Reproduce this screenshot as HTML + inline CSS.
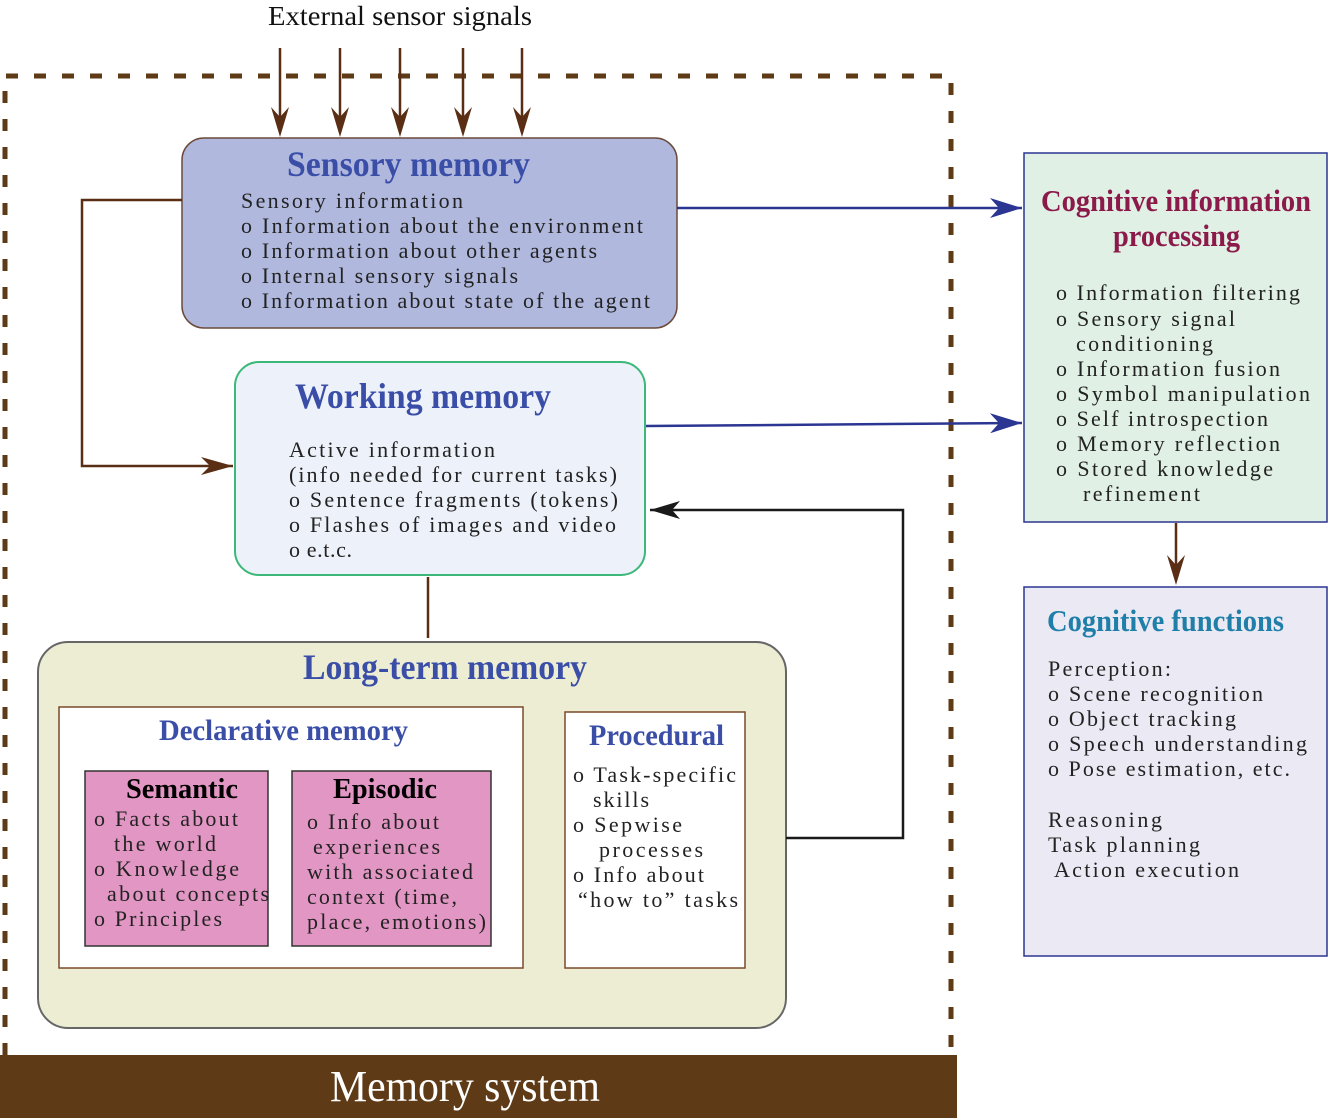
<!DOCTYPE html>
<html><head><meta charset="utf-8"><style>
html,body{margin:0;padding:0;background:#fff;}
svg{display:block;}
.b{font-family:"Liberation Serif",serif;font-size:22px;fill:#222;}
.t{font-family:"Liberation Serif",serif;font-weight:bold;fill:#3a4ea8;}
</style></head><body>
<svg width="1329" height="1119" viewBox="0 0 1329 1119" xmlns="http://www.w3.org/2000/svg">
<defs>
<marker id="ab" viewBox="0 0 18 42" refX="9" refY="42" markerWidth="18" markerHeight="42" markerUnits="userSpaceOnUse" orient="0"><path d="M0,12 L9,42 L18,12 L9,22 Z" fill="#5a2e14"/></marker>
<marker id="ar" viewBox="0 0 32 18" refX="32" refY="9" markerWidth="32" markerHeight="18" markerUnits="userSpaceOnUse" orient="auto"><path d="M0,0 L32,9 L0,18 L9,9 Z" fill="#5a2e14"/></marker>
<marker id="au" viewBox="0 0 32 20" refX="32" refY="10" markerWidth="32" markerHeight="20" markerUnits="userSpaceOnUse" orient="auto"><path d="M0,0 L32,10 L0,20 L9,10 Z" fill="#2b3592"/></marker>
<marker id="ak" viewBox="0 0 30 18" refX="30" refY="9" markerWidth="30" markerHeight="18" markerUnits="userSpaceOnUse" orient="auto"><path d="M0,0 L30,9 L0,18 L8,9 Z" fill="#1a1a1a"/></marker>
</defs>

<text x="268" y="25" font-family="Liberation Serif" font-size="27" fill="#111" textLength="264" lengthAdjust="spacingAndGlyphs">External sensor signals</text>

<path d="M5,1055 L5,76 L951,76 L951,1055" fill="none" stroke="#5e3a17" stroke-width="5" stroke-dasharray="12,16"/>

<g stroke="#5a2e14" stroke-width="2.5">
<line x1="280" y1="48" x2="280" y2="120"/><line x1="340" y1="48" x2="340" y2="120"/>
<line x1="400" y1="48" x2="400" y2="120"/><line x1="463" y1="48" x2="463" y2="120"/>
<line x1="522" y1="48" x2="522" y2="120"/>
</g>
<g fill="#5a2e14">
<path d="M271,107 L280,137 L289,107 L280,117 Z"/>
<path d="M331,107 L340,137 L349,107 L340,117 Z"/>
<path d="M391,107 L400,137 L409,107 L400,117 Z"/>
<path d="M454,107 L463,137 L472,107 L463,117 Z"/>
<path d="M513,107 L522,137 L531,107 L522,117 Z"/>
</g>

<rect x="182" y="138" width="495" height="190" rx="22" fill="#b0b8de" stroke="#6b4a3a" stroke-width="1.5"/>
<text class="t" x="287" y="176" font-size="36" textLength="243" lengthAdjust="spacingAndGlyphs">Sensory memory</text>
<text class="b" x="241" y="208" textLength="222">Sensory information</text>
<text class="b" x="241" y="233" textLength="402">o Information about the environment</text>
<text class="b" x="241" y="258" textLength="356">o Information about other agents</text>
<text class="b" x="241" y="283" textLength="277">o Internal sensory signals</text>
<text class="b" x="241" y="308" textLength="409">o Information about state of the agent</text>

<polyline points="182,200 82,200 82,466 233,466" fill="none" stroke="#5a2e14" stroke-width="2.5" marker-end="url(#ar)"/>
<line x1="677" y1="208" x2="1022" y2="208" stroke="#2b3592" stroke-width="2.5" marker-end="url(#au)"/>

<rect x="235" y="362" width="410" height="213" rx="24" fill="#edf1f9" stroke="#3cb878" stroke-width="2"/>
<text class="t" x="295" y="408" font-size="36" textLength="256" lengthAdjust="spacingAndGlyphs">Working memory</text>
<text class="b" x="289" y="457" textLength="206">Active information</text>
<text class="b" x="289" y="482" textLength="328">(info needed for current tasks)</text>
<text class="b" x="289" y="507" textLength="329">o Sentence fragments (tokens)</text>
<text class="b" x="289" y="532" textLength="327">o Flashes of images and video</text>
<text class="b" x="289" y="557" textLength="63">o e.t.c.</text>
<line x1="646" y1="426" x2="1022" y2="423" stroke="#2b3592" stroke-width="2.5" marker-end="url(#au)"/>
<line x1="428" y1="577" x2="428" y2="638" stroke="#5a2e14" stroke-width="2.5"/>

<rect x="38" y="642" width="748" height="386" rx="30" fill="#ecedd3" stroke="#666" stroke-width="2"/>
<text class="t" x="303" y="679" font-size="36" textLength="284" lengthAdjust="spacingAndGlyphs">Long-term memory</text>
<rect x="59" y="707" width="464" height="261" fill="#fff" stroke="#7a4a2a" stroke-width="1.5"/>
<text class="t" x="159" y="740" font-size="30" textLength="249" lengthAdjust="spacingAndGlyphs">Declarative memory</text>
<rect x="85" y="771" width="183" height="175" fill="#e296c3" stroke="#333" stroke-width="1.5"/>
<text x="126" y="798" font-family="Liberation Serif" font-weight="bold" font-size="29" fill="#000" textLength="112" lengthAdjust="spacingAndGlyphs">Semantic</text>
<text class="b" x="94" y="826" textLength="144">o Facts about</text>
<text class="b" x="114" y="851" textLength="102">the world</text>
<text class="b" x="94" y="876" textLength="145">o Knowledge</text>
<text class="b" x="107" y="901" textLength="162">about concepts</text>
<text class="b" x="94" y="926" textLength="128">o Principles</text>
<rect x="292" y="771" width="199" height="175" fill="#e296c3" stroke="#333" stroke-width="1.5"/>
<text x="333" y="798" font-family="Liberation Serif" font-weight="bold" font-size="29" fill="#000" textLength="104" lengthAdjust="spacingAndGlyphs">Episodic</text>
<text class="b" x="307" y="829" textLength="132">o Info about</text>
<text class="b" x="313" y="854" textLength="127">experiences</text>
<text class="b" x="307" y="879" textLength="166">with associated</text>
<text class="b" x="307" y="904" textLength="150">context (time,</text>
<text class="b" x="307" y="929" textLength="179">place, emotions)</text>

<rect x="565" y="712" width="180" height="256" fill="#fff" stroke="#7a4a2a" stroke-width="1.5"/>
<text class="t" x="589" y="745" font-size="30" textLength="135" lengthAdjust="spacingAndGlyphs">Procedural</text>
<text class="b" x="573" y="782" textLength="163">o Task-specific</text>
<text class="b" x="593" y="807" textLength="56">skills</text>
<text class="b" x="573" y="832" textLength="109">o Sepwise</text>
<text class="b" x="599" y="857" textLength="104">processes</text>
<text class="b" x="573" y="882" textLength="131">o Info about</text>
<text class="b" x="578" y="907" textLength="160">“how to” tasks</text>

<polyline points="786,838 903,838 903,510 650,510" fill="none" stroke="#1a1a1a" stroke-width="2.5" marker-end="url(#ak)"/>

<rect x="0" y="1055" width="957" height="63" fill="#5e3a17"/>
<text x="330" y="1101" font-family="Liberation Serif" font-size="44" fill="#fff" textLength="270" lengthAdjust="spacingAndGlyphs">Memory system</text>

<rect x="1024" y="153" width="303" height="369" fill="#e0f0e4" stroke="#2b3592" stroke-width="1.5"/>
<text x="1041" y="211" font-family="Liberation Serif" font-weight="bold" font-size="31" fill="#8b1a4a" textLength="270" lengthAdjust="spacingAndGlyphs">Cognitive information</text>
<text x="1113" y="246" font-family="Liberation Serif" font-weight="bold" font-size="31" fill="#8b1a4a" textLength="127" lengthAdjust="spacingAndGlyphs">processing</text>
<text class="b" x="1056" y="300" textLength="244">o Information filtering</text>
<text class="b" x="1056" y="326" textLength="179">o Sensory signal</text>
<text class="b" x="1076" y="351" textLength="137">conditioning</text>
<text class="b" x="1056" y="376" textLength="224">o Information fusion</text>
<text class="b" x="1056" y="401" textLength="254">o Symbol manipulation</text>
<text class="b" x="1056" y="426" textLength="212">o Self introspection</text>
<text class="b" x="1056" y="451" textLength="224">o Memory reflection</text>
<text class="b" x="1056" y="476" textLength="217">o Stored knowledge</text>
<text class="b" x="1083" y="501" textLength="117">refinement</text>

<line x1="1176" y1="523" x2="1176" y2="565" stroke="#5a2e14" stroke-width="2.5"/>
<path d="M1167,555 L1176,585 L1185,555 L1176,565 Z" fill="#5a2e14"/>

<rect x="1024" y="587" width="303" height="369" fill="#ebe9f4" stroke="#2b3592" stroke-width="1.5"/>
<text x="1047" y="631" font-family="Liberation Serif" font-weight="bold" font-size="31" fill="#1f7fa8" textLength="237" lengthAdjust="spacingAndGlyphs">Cognitive functions</text>
<text class="b" x="1048" y="676" textLength="123">Perception:</text>
<text class="b" x="1048" y="701" textLength="215">o Scene recognition</text>
<text class="b" x="1048" y="726" textLength="188">o Object tracking</text>
<text class="b" x="1048" y="751" textLength="259">o Speech understanding</text>
<text class="b" x="1048" y="776" textLength="242">o Pose estimation, etc.</text>
<text class="b" x="1048" y="827" textLength="114">Reasoning</text>
<text class="b" x="1048" y="852" textLength="152">Task planning</text>
<text class="b" x="1054" y="877" textLength="185">Action execution</text>
</svg>
</body></html>
